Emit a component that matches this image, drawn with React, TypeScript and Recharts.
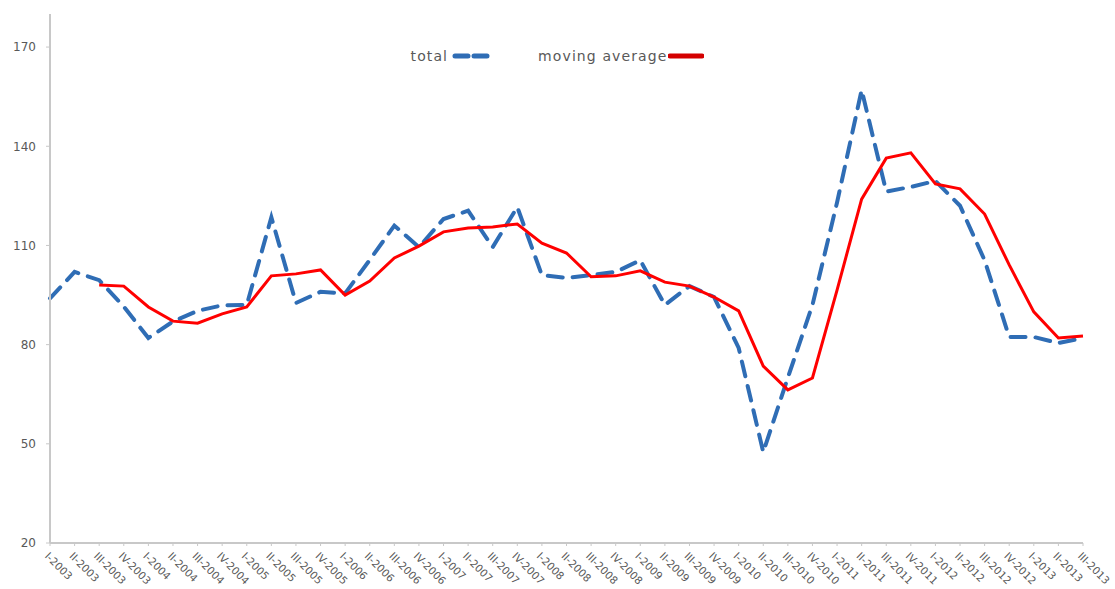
import { CartesianGrid, Legend, Line, LineChart, XAxis, YAxis } from "recharts";

const quarters = [
  "I-2003", "II-2003", "III-2003", "IV-2003",
  "I-2004", "II-2004", "III-2004", "IV-2004",
  "I-2005", "II-2005", "III-2005", "IV-2005",
  "I-2006", "II-2006", "III-2006", "IV-2006",
  "I-2007", "II-2007", "III-2007", "IV-2007",
  "I-2008", "II-2008", "III-2008", "IV-2008",
  "I-2009", "II-2009", "III-2009", "IV-2009",
  "I-2010", "II-2010", "III-2010", "IV-2010",
  "I-2011", "II-2011", "III-2011", "IV-2011",
  "I-2012", "II-2012", "III-2012", "IV-2012",
  "I-2013", "II-2013", "III-2013",
];

const total = [
  94, 102, 99.5, 91.5, 82, 87, 90.2, 91.9, 92, 118.5, 92.6, 96, 95.5, 105.6,
  116, 109.5, 118, 120.5, 109.5, 121.6, 101, 100.2, 101, 102, 105.5, 92, 97.7,
  94.4, 79, 47.5, 70, 92, 123, 157, 126.3, 127.7, 129.5, 122, 105.5, 82.3,
  82.3, 80.5, 82,
];

const movingAverage = [
  null, null, 98, 97.7, 91.4, 87.1, 86.5, 89.3, 91.4, 100.8, 101.4, 102.6, 95,
  99.2, 106.2, 109.8, 114.1, 115.3, 115.6, 116.5, 110.7, 107.7, 100.5, 100.8,
  102.3, 98.9, 97.7, 94.4, 90.2, 73.5, 66.3, 69.9, 96.5, 124, 136.4, 138,
  128.6, 127.1, 119.5, 104.1, 89.9, 82, 82.6,
];

const yTicks = [20, 50, 80, 110, 140, 170];

const data = quarters.map((q, i) => ({
  quarter: q,
  total: total[i],
  movingAverage: movingAverage[i],
}));

const BLUE = "#2f6db5";
const RED = "#ff0000";
const GREY = "#595959";
const FONT = "'DejaVu Sans', sans-serif";

function QuarterTick({ x, y, payload }: any) {
  return (
    <g transform={`translate(${x - 3},${y + 6})`}>
      <text
        transform="rotate(45)"
        textAnchor="start"
        fontSize={10.5}
        fill={GREY}
        fontFamily={FONT}
        dy={4}
      >
        {payload.value}
      </text>
    </g>
  );
}

function ChartLegend() {
  return (
    <div
      style={{
        display: "flex",
        justifyContent: "center",
        gap: 45,
        fontFamily: FONT,
        fontSize: 14,
        letterSpacing: 1.1,
        color: GREY,
      }}
    >
      <div style={{ display: "flex", alignItems: "center" }}>
        <span>total</span>
        <svg width={42} height={10} style={{ marginLeft: 3 }}>
          <line x1={4} y1={5} x2={38} y2={5} stroke={BLUE} strokeWidth={5} strokeDasharray="13 6" strokeLinecap="round" />
        </svg>
      </div>
      <div style={{ display: "flex", alignItems: "center" }}>
        <span>moving average</span>
        <svg width={36} height={10} style={{ marginLeft: 1 }}>
          <line x1={2} y1={5} x2={34} y2={5} stroke="#d40000" strokeWidth={5} strokeLinecap="round" />
        </svg>
      </div>
    </div>
  );
}

export default function App() {
  return (
    <div style={{ position: "absolute", left: 0, top: 0, background: "#fff" }}>
      <LineChart
        width={1115}
        height={589}
        data={data}
        margin={{ top: 14, right: 32, bottom: 0, left: 0 }}
      >
        <CartesianGrid vertical={false} horizontal={false} />
        <XAxis
          dataKey="quarter"
          interval={0}
          height={46}
          tick={<QuarterTick />}
          tickSize={3}
          axisLine={{ stroke: "#c8c8c8", strokeWidth: 2 }}
          tickLine={{ stroke: "#c8c8c8" }}
        />
        <YAxis
          width={50}
          domain={[20, 180]}
          ticks={yTicks}
          interval={0}
          tickSize={4}
          tickMargin={10}
          axisLine={{ stroke: "#c8c8c8", strokeWidth: 2 }}
          tickLine={{ stroke: "#c8c8c8" }}
          tick={{ fontSize: 12, fill: GREY, fontFamily: FONT }}
        />
        <Legend
          verticalAlign="middle"
          align="center"
          wrapperStyle={{ top: 48, left: 0, width: 1115 }}
          content={() => <ChartLegend />}
        />
        <Line
          type="linear"
          dataKey="total"
          stroke={BLUE}
          strokeWidth={4}
          strokeDasharray="15 10"
          strokeLinecap="round"
          dot={false}
          isAnimationActive={false}
        />
        <Line
          type="linear"
          dataKey="movingAverage"
          stroke={RED}
          strokeWidth={3}
          dot={false}
          connectNulls={false}
          isAnimationActive={false}
        />
      </LineChart>
    </div>
  );
}
